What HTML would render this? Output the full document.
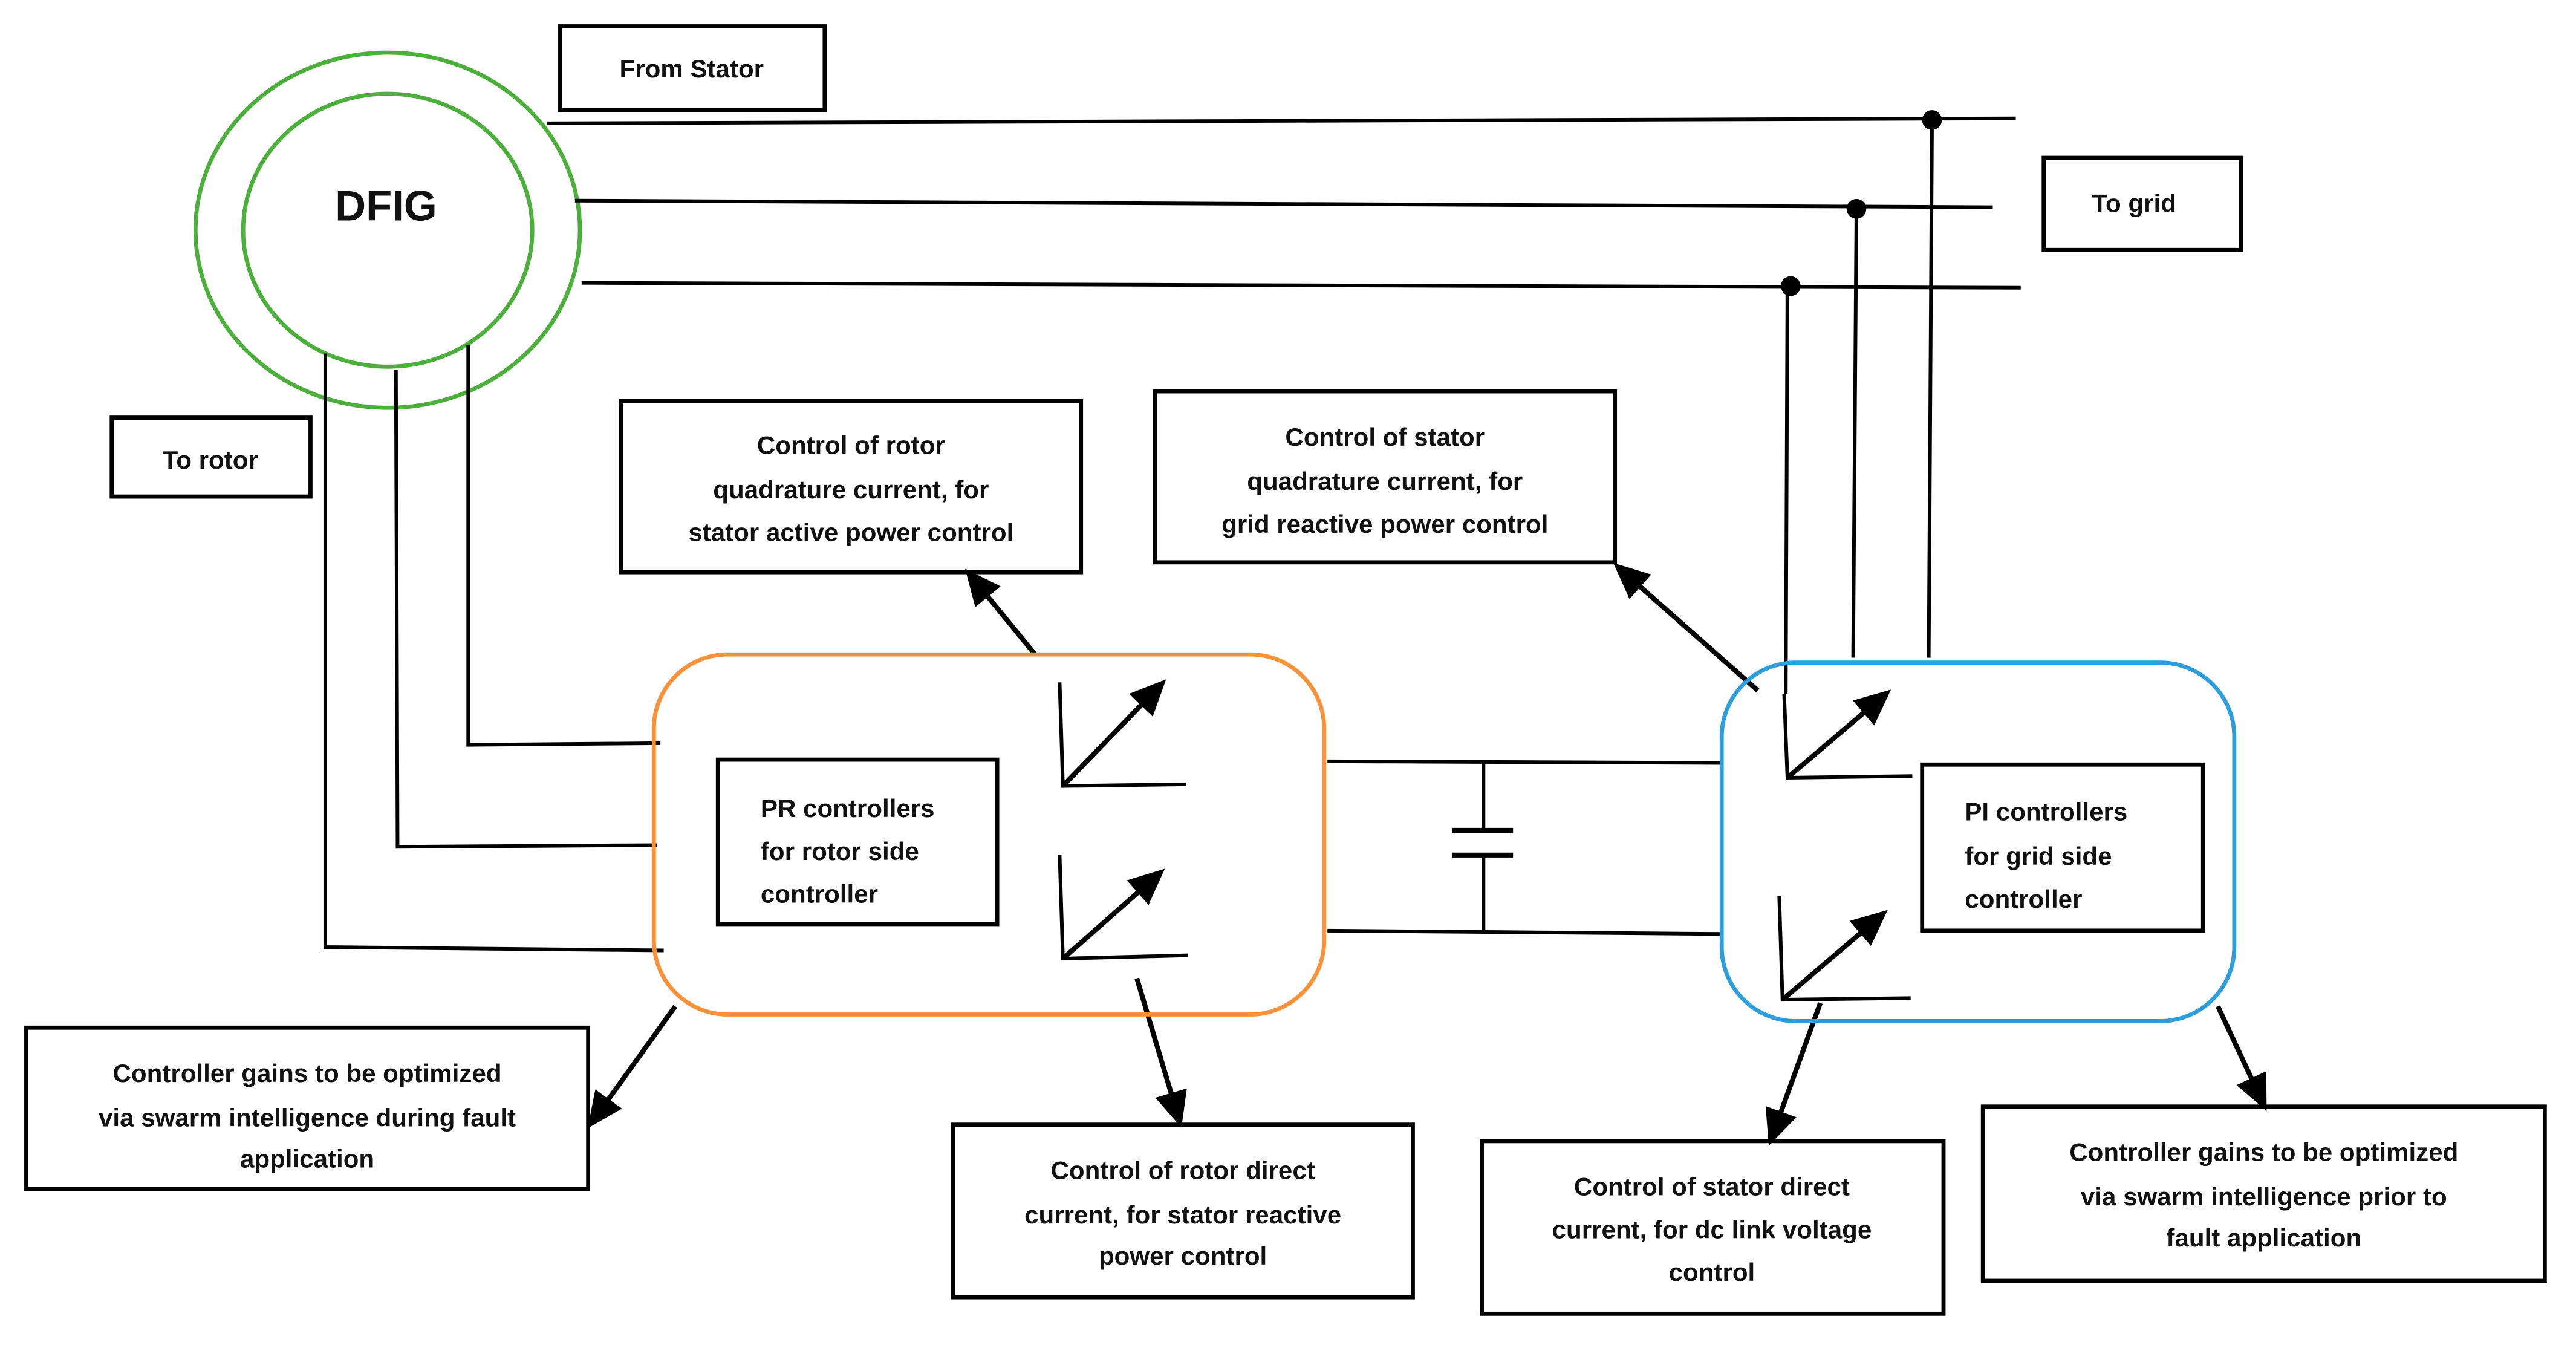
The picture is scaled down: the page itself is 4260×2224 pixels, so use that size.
<!DOCTYPE html>
<html><head><meta charset="utf-8"><style>
html,body{margin:0;padding:0;background:#fff;}
svg{display:block;}
text{font-family:"Liberation Sans",sans-serif;font-weight:bold;font-size:15.5px;fill:#111;}
</style></head><body>
<svg width="4260" height="2224" viewBox="0 0 1568 818" preserveAspectRatio="none" xmlns="http://www.w3.org/2000/svg">
<defs>
<marker id="ah2" markerWidth="22" markerHeight="20" refX="18" refY="10" orient="auto" markerUnits="userSpaceOnUse" viewBox="0 0 22 20"><path d="M0,0 L22,10 L0,20 z" fill="#000"/></marker></defs>
<rect width="1568" height="818" fill="#fff"/>
<g fill="none" stroke="#4caf3c" stroke-width="2.5">
<ellipse cx="236" cy="140" rx="117" ry="108"/>
<ellipse cx="236" cy="140" rx="88" ry="83"/>
</g>
<text x="235" y="134" text-anchor="middle" style="font-size:26px">DFIG</text>
<g fill="none" stroke="#000" stroke-width="2.5">
<rect x="341" y="16" width="161" height="51"/>
<rect x="1244" y="96" width="120" height="56"/>
<rect x="68" y="254" width="121" height="48"/>
<rect x="378" y="244" width="280" height="104"/>
<rect x="703" y="238" width="280" height="104"/>
<rect x="437" y="462" width="170" height="100"/>
<rect x="1170" y="465" width="171" height="101"/>
<rect x="16" y="625" width="342" height="98"/>
<rect x="580" y="684" width="280" height="105"/>
<rect x="902" y="694" width="281" height="105"/>
<rect x="1207" y="673" width="342" height="106"/>
</g>
<g fill="none" stroke="#000" stroke-width="2.2">
<line x1="333" y1="75" x2="1227" y2="72"/>
<line x1="350" y1="122" x2="1213" y2="126"/>
<line x1="354" y1="172" x2="1230" y2="175"/>
<line x1="1176" y1="73" x2="1174" y2="400"/>
<line x1="1130" y1="127" x2="1128" y2="400"/>
<line x1="1088" y1="174" x2="1087" y2="422"/>
<polyline points="285,210 285,453 402,452"/>
<polyline points="241,225 242,515 400,514"/>
<polyline points="198,215 198,576 404,578"/>
<line x1="808" y1="463" x2="1048" y2="464"/>
<line x1="808" y1="566" x2="1048" y2="568"/>
<line x1="903" y1="463" x2="903" y2="505"/>
<line x1="903" y1="520" x2="903" y2="566"/>
<line x1="884" y1="505" x2="921" y2="505" stroke-width="3"/>
<line x1="884" y1="520" x2="921" y2="520" stroke-width="3"/>
<polyline points="645,415 647,478 722,477"/>
<polyline points="645,520 647,583 723,581"/>
<polyline points="1086,422 1088,473 1164,472"/>
<polyline points="1083,545 1085,608 1163,607"/>
</g>
<g fill="none" stroke="#000" stroke-width="3">
<line x1="647" y1="478" x2="707" y2="416" marker-end="url(#ah2)"/>
<line x1="647" y1="583" x2="706" y2="531" marker-end="url(#ah2)"/>
<line x1="1088" y1="473" x2="1148" y2="422" marker-end="url(#ah2)"/>
<line x1="1085" y1="608" x2="1146" y2="556" marker-end="url(#ah2)"/>
<line x1="630" y1="398" x2="590" y2="349" marker-end="url(#ah2)"/>
<line x1="1070" y1="420" x2="985" y2="345" marker-end="url(#ah2)"/>
<line x1="1108" y1="610" x2="1078" y2="693" marker-end="url(#ah2)"/>
<line x1="1350" y1="612" x2="1378" y2="672" marker-end="url(#ah2)"/>
<line x1="411" y1="612" x2="360" y2="683" marker-end="url(#ah2)"/>
<line x1="692" y1="595" x2="718" y2="682" marker-end="url(#ah2)"/>
</g>
<circle cx="1176" cy="73" r="6" fill="#000"/>
<circle cx="1130" cy="127" r="6" fill="#000"/>
<circle cx="1090" cy="174" r="6" fill="#000"/>
<rect x="398" y="398" width="408" height="219" rx="45" fill="none" stroke="#f7923a" stroke-width="2.5"/>
<rect x="1048" y="403" width="312" height="218" rx="45" fill="none" stroke="#2d9ddc" stroke-width="2.5"/>
<text x="421" y="47" text-anchor="middle">From Stator</text>
<text x="1299" y="129" text-anchor="middle">To grid</text>
<text x="128" y="285" text-anchor="middle">To rotor</text>
<g text-anchor="middle">
<text x="518" y="276">Control of rotor</text>
<text x="518" y="303">quadrature  current, for</text>
<text x="518" y="329">stator active power control</text>
<text x="843" y="271">Control of stator</text>
<text x="843" y="298">quadrature  current, for</text>
<text x="843" y="324">grid reactive power control</text>
<text x="187" y="658">Controller gains to be optimized</text>
<text x="187" y="685">via swarm intelligence during fault</text>
<text x="187" y="710">application</text>
<text x="720" y="717">Control of rotor direct</text>
<text x="720" y="744">current, for stator reactive</text>
<text x="720" y="769">power control</text>
<text x="1042" y="727">Control of stator direct</text>
<text x="1042" y="753">current, for dc link voltage</text>
<text x="1042" y="779">control</text>
<text x="1378" y="706">Controller gains to be optimized</text>
<text x="1378" y="733">via swarm intelligence prior to</text>
<text x="1378" y="758">fault application</text>
</g>
<text x="463" y="497">PR controllers</text>
<text x="463" y="523">for rotor side</text>
<text x="463" y="549">controller</text>
<text x="1196" y="499">PI controllers</text>
<text x="1196" y="526">for grid side</text>
<text x="1196" y="552">controller</text>
</svg>
</body></html>
